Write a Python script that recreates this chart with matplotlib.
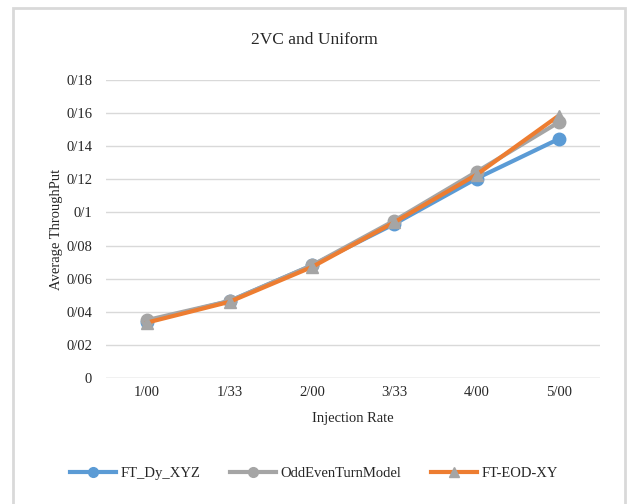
import matplotlib
matplotlib.use("Agg")
import matplotlib.pyplot as plt
from matplotlib.patches import Rectangle
from matplotlib.lines import Line2D

rates = ['1/00', '1/33', '2/00', '3/33', '4/00', '5/00']
ft_dy = [0.034, 0.0465, 0.068, 0.093, 0.1205, 0.1444]
odd_even = [0.035, 0.0465, 0.068, 0.095, 0.1245, 0.1545]
ft_eod = [0.0335, 0.046, 0.067, 0.094, 0.1228, 0.1585]
yticks = [0, 0.02, 0.04, 0.06, 0.08, 0.10, 0.12, 0.14, 0.16, 0.18]
ylabels = ['0', '0/02', '0/04', '0/06', '0/08', '0/1', '0/12', '0/14', '0/16', '0/18']

plt.rcParams['font.family'] = ['Liberation Serif', 'DejaVu Serif']

fig = plt.figure(figsize=(6.28, 5.04), dpi=100)
fig.patches.append(Rectangle((13/628, -0.05), 612/628, 1 - 8/504 + 0.05,
                             transform=fig.transFigure, fill=False,
                             edgecolor='#d9d9d9', linewidth=2))
ax = fig.add_axes([106/628, 1 - 378/504, 494/628, 298/504])

x = list(range(len(rates)))
blue, gray, orange = '#5b9bd5', '#a5a5a5', '#ed7d31'
ax.plot(x, ft_dy, color=blue, lw=3, marker='o', ms=9, mfc=blue, mec=blue)
ax.plot(x, odd_even, color=gray, lw=3, marker='o', ms=9, mfc=gray, mec=gray)
ax.plot(x, ft_eod, color=orange, lw=3, marker='^', ms=8, mfc=gray, mec=gray)

ax.set_xlim(-0.5, len(rates) - 0.5)
ax.set_ylim(0, 0.18)
ax.set_xticks(x)
ax.set_xticklabels(rates, fontsize=10.5)
ax.set_yticks(yticks)
ax.set_yticklabels(ylabels, fontsize=10.5)
ax.tick_params(axis='y', length=0, pad=10, colors='#262626')
ax.tick_params(axis='x', length=0, pad=6, colors='#262626')
ax.grid(axis='y', color='#d9d9d9', lw=1)
ax.set_axisbelow(True)
for s in ax.spines.values():
    s.set_visible(False)
ax.axhline(0, color='#d9d9d9', lw=1)

ax.set_xlabel('Injection Rate', fontsize=10.5, labelpad=9, color='#262626')
ax.set_ylabel('Average ThroughPut', fontsize=10.5, labelpad=2, color='#262626')
fig.text(0.5, 1 - 40/504, '2VC and Uniform', ha='center', va='center',
         fontsize=12.5, color='#262626')

handles = [
    Line2D([], [], color=blue, lw=3, marker='o', ms=7, mfc=blue, mec=blue),
    Line2D([], [], color=gray, lw=3, marker='o', ms=7, mfc=gray, mec=gray),
    Line2D([], [], color=orange, lw=3, marker='^', ms=7, mfc=gray, mec=gray),
]
leg = fig.legend(handles, ['FT_Dy_XYZ', 'OddEvenTurnModel', 'FT-EOD-XY'],
                 loc='center', bbox_to_anchor=(0.5, 1 - 473/504), ncol=3,
                 frameon=False, fontsize=10.5, handlelength=3.2, columnspacing=2.0,
                 handletextpad=0.3)
for t in leg.get_texts():
    t.set_color('#262626')

plt.savefig('out.png', dpi=100)
